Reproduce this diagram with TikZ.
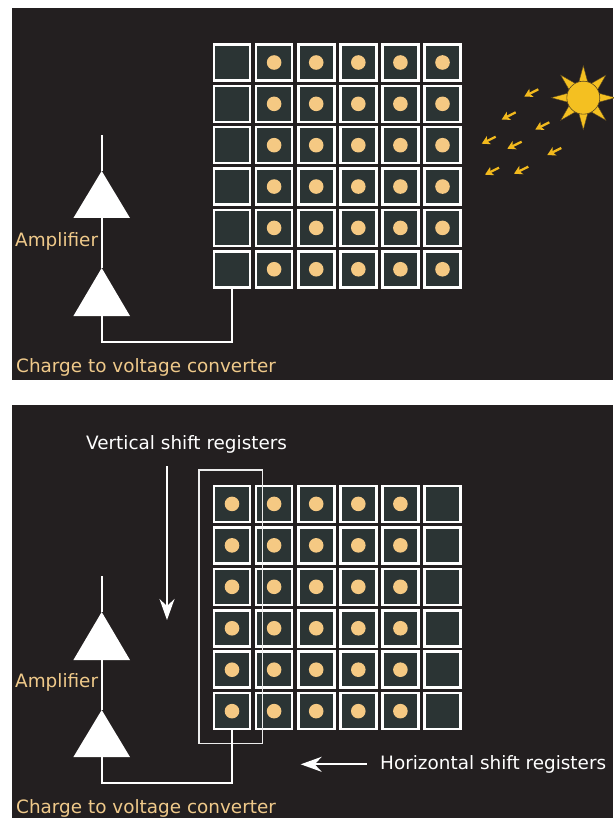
\documentclass[tikz,border=0pt]{standalone}
\usepackage{fontspec}
\setmainfont{DejaVu Sans}
\usetikzlibrary{arrows.meta}

\definecolor{panelbg}{HTML}{231F20}
\definecolor{cellfill}{HTML}{2B3434}
\definecolor{dotcol}{HTML}{F5C983}
\definecolor{labeltan}{HTML}{EFC98A}
\definecolor{sunyellow}{HTML}{F4C021}
\definecolor{sunedge}{HTML}{5A4820}
\definecolor{rayarrow}{HTML}{F2B91D}

\begin{document}
\begin{tikzpicture}[x=1pt,y=-1pt,
  cell/.style={draw=white, line width=2.6pt, fill=cellfill, minimum size=36pt, inner sep=0pt, outer sep=0pt},
  dot/.style={circle, fill=dotcol, minimum size=14.6pt, inner sep=0pt},
  wire/.style={draw=white, line width=2pt},
  ampfill/.style={fill=white},
  tanlabel/.style={text=labeltan, font=\fontsize{18.4}{22}\selectfont, inner sep=0pt, anchor=base west},
  whitelabel/.style={text=white, font=\fontsize{18.4}{22}\selectfont, inner sep=0pt, anchor=base west},
  bigarrow/.style={draw=white, line width=2pt, -{Stealth[length=21pt,width=15pt,inset=7pt]}},
  lightray/.style={draw=rayarrow, line width=2.3pt, -{Stealth[length=8pt,width=9pt,inset=2pt]}},
  regframe/.style={draw=white!85!gray, line width=1.3pt, inner sep=0pt, outer sep=0pt}
]
\useasboundingbox (0,0) rectangle (613,818);
\fill[white] (0,0) rectangle (613,818);

% two dark panels
\fill[panelbg] (12,8.5) rectangle (613,379.5);
\fill[panelbg] (12,405) rectangle (613,818);

% ---------- upper panel: exposed sensor ----------
\foreach \r in {1,...,6}{
  \foreach \c in {1,...,6}{
    \node[cell] (t-\r-\c) at ({232+42.1*(\c-1)}, {62.5+41.35*(\r-1)}) {};
    \ifnum\c>1 \node[dot] (td-\r-\c) at (t-\r-\c) {};\fi
  }
}

% sun and incoming light
\begin{scope}[shift={(583.3,97.7)}]
  \foreach \a in {0,45,...,315}{
    \filldraw[fill=sunyellow, draw=sunedge, line width=0.4pt, rotate=\a] (32,0) -- (12,5.4) -- (12,-5.4) -- cycle;
  }
\end{scope}
\node[circle, fill=sunyellow, draw=sunedge, line width=0.6pt, minimum size=33pt, inner sep=0pt] (sun) at (583.3,97.7) {};

\foreach \tx/\ty/\hx/\hy [count=\k] in {
  538.3/89.3/524.3/96.5,
  515.7/112.3/501.7/119.5,
  549.3/122.3/535.3/129.5,
  495.7/136.7/481.7/143.7,
  521.7/141.7/507.3/148.7,
  561.3/148.0/547.3/155.0,
  499.0/167.7/485.0/174.7,
  528.3/166.7/514.0/173.7}{
  \coordinate (ray\k-from) at (\tx,\ty);
  \coordinate (ray\k-to) at (\hx,\hy);
  \draw[lightray] (ray\k-from) -- (ray\k-to);
}

% readout chain
\coordinate (t-out) at (101.7,135);
\coordinate (t-a1-tip) at (101.7,171);
\coordinate (t-a1-base) at (101.7,218);
\coordinate (t-a2-tip) at (101.7,268);
\coordinate (t-a2-base) at (101.7,316);
\coordinate (t-bend) at (101.7,342);
\draw[wire] (t-6-1.south) |- (t-bend) -- (t-a2-base);
\draw[wire] (t-a2-tip) -- (t-a1-base);
\draw[wire] (t-a1-tip) -- (t-out);
\fill[ampfill] (t-a1-tip) -- ++(28.3,47) -- ++(-56.6,0) -- cycle;
\fill[ampfill] (t-a2-tip) -- ++(28.3,48) -- ++(-56.6,0) -- cycle;

\node[tanlabel] (t-amp-label) at (15,246.7) {Amplifier};
\node[tanlabel] (t-conv-label) at (16,372.3) {Charge to voltage converter};

% ---------- lower panel: charge transfer ----------
\foreach \r in {1,...,6}{
  \foreach \c in {1,...,6}{
    \node[cell] (b-\r-\c) at ({232+42.1*(\c-1)}, {503.9+41.45*(\r-1)}) {};
    \ifnum\c<6 \node[dot] (bd-\r-\c) at (b-\r-\c) {};\fi
  }
}

\node[regframe, minimum width=63.3pt, minimum height=273.7pt] (vsr) at (230.65,606.85) {};

\node[whitelabel] (vsr-label) at (86,449.3) {Vertical shift registers};
\coordinate (vsr-arrow-start) at (167,466);
\coordinate (vsr-arrow-end) at (167,620);
\draw[bigarrow] (vsr-arrow-start) -- (vsr-arrow-end);

\node[whitelabel] (hsr-label) at (380,769.3) {Horizontal shift registers};
\coordinate (hsr-arrow-start) at (366.7,764.3);
\coordinate (hsr-arrow-end) at (300.7,764.3);
\draw[bigarrow] (hsr-arrow-start) -- (hsr-arrow-end);

\coordinate (b-out) at (101.7,576);
\coordinate (b-a1-tip) at (101.7,612);
\coordinate (b-a1-base) at (101.7,660);
\coordinate (b-a2-tip) at (101.7,710);
\coordinate (b-a2-base) at (101.7,757);
\coordinate (b-bend) at (101.7,783);
\draw[wire] (b-6-1.south) |- (b-bend) -- (b-a2-base);
\draw[wire] (b-a2-tip) -- (b-a1-base);
\draw[wire] (b-a1-tip) -- (b-out);
\fill[ampfill] (b-a1-tip) -- ++(28.3,48) -- ++(-56.6,0) -- cycle;
\fill[ampfill] (b-a2-tip) -- ++(28.3,47) -- ++(-56.6,0) -- cycle;

\node[tanlabel] (b-amp-label) at (15,687.3) {Amplifier};
\node[tanlabel] (b-conv-label) at (16,813.3) {Charge to voltage converter};
\end{tikzpicture}
\end{document}
